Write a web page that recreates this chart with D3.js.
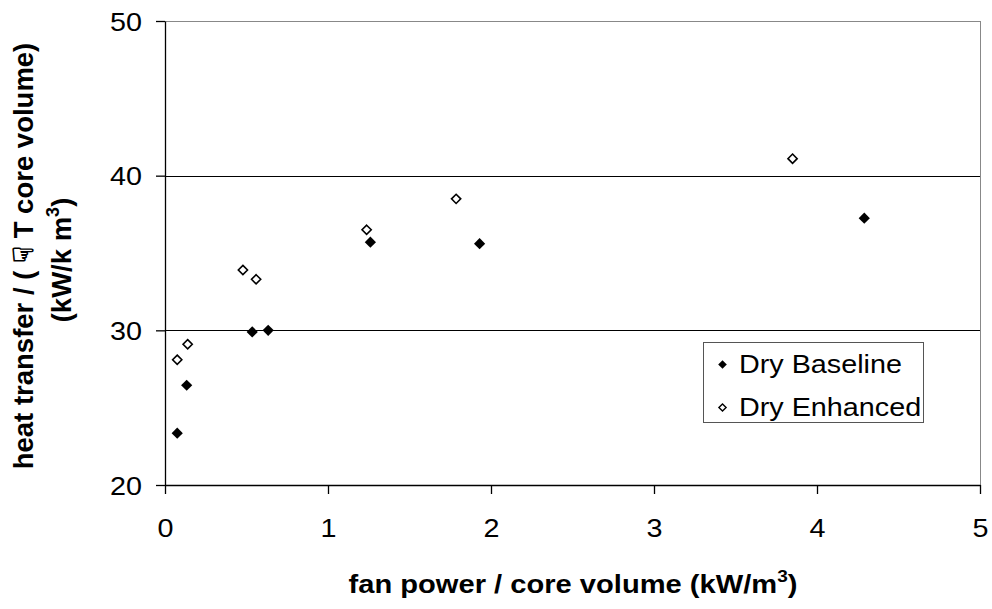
<!DOCTYPE html>
<html><head><meta charset="utf-8">
<script src="https://cdn.jsdelivr.net/npm/d3@7"></script>
<style>body{margin:0;background:#fff}svg{display:block;font-family:Arial,"Liberation Sans",sans-serif}</style>
</head><body>
<svg id="c" width="992" height="609"></svg>
<script>
const baselineX = [0.075, 0.133, 0.535, 0.633, 1.26, 1.93, 4.29];
const baselineY = [23.35, 26.45, 29.9, 30.0, 35.7, 35.6, 37.25];
const enhancedX = [0.075, 0.139, 0.478, 0.559, 1.237, 1.786, 3.85];
const enhancedY = [28.1, 29.1, 33.9, 33.3, 36.5, 38.5, 41.1];
const xTicks = [0, 1, 2, 3, 4, 5];
const yTicks = [20, 30, 40, 50];
const seriesNames = ["Dry Baseline", "Dry Enhanced"];

const SX = 1.15; // horizontal stretch of the reference's text
const svg = d3.select("#c");
const L = 165, R = 980, T = 21, B = 485;
const x = d3.scaleLinear().domain([0, 5]).range([L, R]);
const y = d3.scaleLinear().domain([20, 50]).range([B, T]);

// plot border (gray top/right)
svg.append("line").attr("x1", L).attr("x2", R).attr("y1", T + 0.5).attr("y2", T + 0.5).attr("stroke", "#888").attr("stroke-width", 1);
svg.append("line").attr("x1", R + 0.5).attr("x2", R + 0.5).attr("y1", T).attr("y2", B).attr("stroke", "#888").attr("stroke-width", 1);

// gridlines
svg.append("g").selectAll("line").data(yTicks.filter(d => d > 20 && d < 50)).join("line")
  .attr("x1", L).attr("x2", R).attr("y1", d => Math.round(y(d)) + 0.5).attr("y2", d => Math.round(y(d)) + 0.5)
  .attr("stroke", "#000").attr("stroke-width", 1);

// axes
const xAxis = d3.axisBottom(x).tickValues(xTicks).tickSize(9).tickSizeOuter(0).tickFormat(d3.format("d"));
const gx = svg.append("g").attr("transform", `translate(0,${B})`).call(xAxis);
const yAxis = d3.axisLeft(y).tickValues(yTicks).tickSize(9).tickSizeOuter(0).tickFormat(d3.format("d"));
const gy = svg.append("g").attr("transform", `translate(${L},0)`).call(yAxis);
[gx, gy].forEach(g => {
  g.select(".domain").attr("stroke", "#000").attr("stroke-width", 1.3);
  g.selectAll(".tick line").attr("stroke", "#000").attr("stroke-width", 1.3);
  g.selectAll("text").attr("font-size", 25).attr("fill", "#000")
    .attr("font-family", "Arial, 'Liberation Sans', sans-serif").attr("dy", null);
});
gx.selectAll(".tick text").attr("x", null).attr("y", null)
  .attr("transform", `translate(0,52) scale(${SX},1)`);
gy.selectAll(".tick text").attr("x", null).attr("y", null)
  .attr("transform", `translate(-23,9) scale(${SX},1)`);

// markers
const diamond = s => `M0,${-s}L${s},0L0,${s}L${-s},0Z`;
const base = baselineX.map((v, i) => ({ x: v, y: baselineY[i] }));
const enh = enhancedX.map((v, i) => ({ x: v, y: enhancedY[i] }));
svg.append("g").selectAll("path").data(base).join("path")
  .attr("d", diamond(5.6)).attr("transform", d => `translate(${x(d.x)},${y(d.y)})`)
  .attr("fill", "#000");
svg.append("g").selectAll("path").data(enh).join("path")
  .attr("d", diamond(4.6)).attr("transform", d => `translate(${x(d.x)},${y(d.y)})`)
  .attr("fill", "#fff").attr("stroke", "#000").attr("stroke-width", 1.6);

// legend
const lg = svg.append("g");
lg.append("rect").attr("x", 703.5).attr("y", 342.5).attr("width", 220).attr("height", 80)
  .attr("fill", "#fff").attr("stroke", "#555").attr("stroke-width", 1);
seriesNames.forEach((n, i) => {
  const cy = 364.5 + i * 43;
  const m = lg.append("path").attr("d", diamond(i === 0 ? 4.3 : 3.6)).attr("transform", `translate(722.5,${cy})`);
  if (i === 0) m.attr("fill", "#000");
  else m.attr("fill", "#fff").attr("stroke", "#000").attr("stroke-width", 1.4);
  lg.append("text").attr("transform", `translate(739,${cy + 8}) scale(${SX},1)`)
    .attr("font-size", 25).text(n);
});

// x title
const xt = svg.append("text").attr("transform", `translate(573,593) scale(1.12,1)`).attr("text-anchor", "middle")
  .attr("font-size", 26).attr("font-weight", "bold");
xt.append("tspan").text("fan power / core volume (kW/m");
xt.append("tspan").attr("font-size", 17).attr("dy", -11).text("3");
xt.append("tspan").attr("dy", 11).text(")");

// y title
const yt = svg.append("g").attr("transform", "translate(0,256) rotate(-90)");
yt.append("text").attr("x", 0).attr("y", 33).attr("text-anchor", "middle")
  .attr("font-size", 27.5).attr("font-weight", "bold").text("heat transfer / ( \u261F T core volume)");
const yt2 = yt.append("text").attr("x", -4).attr("y", 71).attr("text-anchor", "middle")
  .attr("font-size", 27.5).attr("font-weight", "bold");
yt2.append("tspan").text("(kW/k m");
yt2.append("tspan").attr("font-size", 18).attr("dy", -12).text("3");
yt2.append("tspan").attr("dy", 12).text(")");
</script>
</body></html>
